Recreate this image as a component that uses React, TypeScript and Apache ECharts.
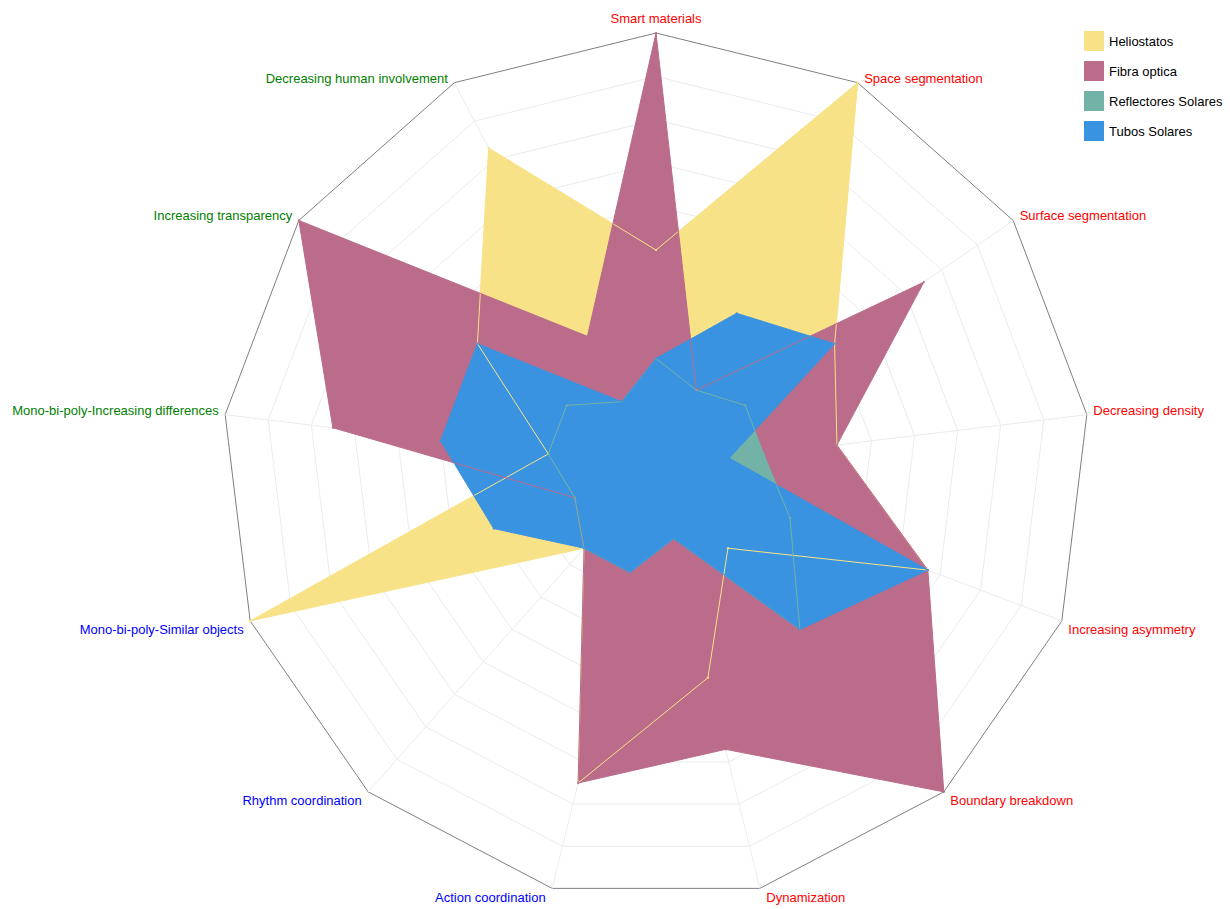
import React, { useEffect, useRef } from "react";
import * as echarts from "echarts";

// Axes listed clockwise from the top
const categories = [
  "Smart materials",
  "Space segmentation",
  "Surface segmentation",
  "Decreasing density",
  "Increasing asymmetry",
  "Boundary breakdown",
  "Dynamization",
  "Action coordination",
  "Rhythm coordination",
  "Mono-bi-poly-Similar objects",
  "Mono-bi-poly-Increasing differences",
  "Increasing transparency",
  "Decreasing human involvement",
];
const categoryColors = [
  "#ff0000", "#ff0000", "#ff0000", "#ff0000", "#ff0000", "#ff0000", "#ff0000",
  "#0000ff", "#0000ff", "#0000ff",
  "#008000", "#008000", "#008000",
];

const seriesNames = ["Heliostatos", "Fibra optica", "Reflectores Solares", "Tubos Solares"];
const heliostatos = [5, 10, 5, 4.2, 6.7, 2.5, 5, 7.5, 2.5, 10, 2.5, 5, 8.3];
const fibraOptica = [10, 2, 7.5, 4.2, 6.7, 10, 6.7, 7.5, 2.5, 2, 7.5, 10, 3.4];
const reflectoresSolares = [2.5, 2, 2.5, 2.5, 3.3, 5, 1.7, 2.5, 2.5, 2, 2.5, 2.5, 1.7];
const tubosSolares = [2.5, 4, 5, 1.7, 6.7, 5, 1.7, 2.5, 2.5, 4, 5, 5, 1.7];
const seriesColors = ["#f8e287", "#ba6c8a", "#73b2a6", "#3a93e0"];

const maxValue = 10;
const rings = 10;

export default function App() {
  const ref = useRef<HTMLDivElement>(null);
  useEffect(() => {
    if (!ref.current) return;
    const chart = echarts.init(ref.current, undefined, { renderer: "svg" });
    const n = categories.length;
    // ECharts radar runs counter-clockwise; reorder to get a clockwise layout
    const order = [0, ...Array.from({ length: n - 1 }, (_, k) => n - 1 - k)];
    const indicator = order.map((i) => ({
      name: categories[i],
      max: maxValue,
      min: 0,
      color: categoryColors[i],
    }));
    const all = [heliostatos, fibraOptica, reflectoresSolares, tubosSolares];
    const reorder = (arr: number[]) => order.map((i) => arr[i]);
    const font = "'Liberation Sans', Arial, sans-serif";
    const fs = 13;
    const lh = 14;
    const gx = 6.5;
    const placeKey = (i: number) => {
      if (i === 0) return "top";
      if (i <= 3) return "ur";
      if (i <= 6) return "lr";
      if (i <= 9) return "ll";
      return "ul";
    };
    const base = { fontSize: fs, fontFamily: font, lineHeight: lh };
    const areaSeries = all.map((arr, k) => ({
      type: "radar",
      name: seriesNames[k],
      symbol: "none",
      itemStyle: { color: seriesColors[k] },
      lineStyle: { width: 0, color: seriesColors[k] },
      areaStyle: { color: seriesColors[k], opacity: 1 },
      data: [{ name: seriesNames[k], value: reorder(arr) }],
      z: 2,
    }));
    const lineSeries = all.map((arr, k) => ({
      type: "radar",
      name: seriesNames[k],
      symbol: "circle",
      symbolSize: 2,
      itemStyle: { color: seriesColors[k] },
      lineStyle: { width: 1, color: seriesColors[k] },
      data: [{ name: seriesNames[k], value: reorder(arr) }],
      z: 3,
    }));
    const splitColors = Array.from({ length: rings + 1 }, (_, i) => (i === rings ? "#7f7f7f" : "#ebebeb"));
    chart.setOption({
      animation: false,
      backgroundColor: "#ffffff",
      legend: {
        orient: "vertical",
        left: 1084,
        top: 31,
        padding: 0,
        itemWidth: 20,
        itemHeight: 20,
        itemGap: 10,
        icon: "rect",
        data: seriesNames,
        textStyle: { fontSize: fs, color: "#000", fontFamily: font },
      },
      radar: {
        center: [656, 467],
        radius: 434,
        startAngle: 90,
        splitNumber: rings,
        shape: "polygon",
        nameGap: 0,
        indicator,
        axisName: {
          fontSize: fs,
          fontFamily: font,
          formatter: (name: string) => `{${placeKey(categories.indexOf(name))}|${name}}`,
          rich: {
            top: { ...base, padding: [0, 0, 15, 0] },
            ur: { ...base, padding: [0, 0, 9, gx] },
            lr: { ...base, padding: [18, 0, 0, gx] },
            ll: { ...base, padding: [18, gx, 0, 0] },
            ul: { ...base, padding: [0, gx, 9, 0] },
          },
        },
        splitArea: { show: false },
        splitLine: { lineStyle: { color: splitColors, width: 1 } },
        axisLine: { lineStyle: { color: "#ebebeb", width: 1 } },
        axisTick: { show: false },
        axisLabel: { show: false },
      },
      series: [...areaSeries, ...lineSeries],
    });
    return () => chart.dispose();
  }, []);
  return (
    <div
      ref={ref}
      style={{ position: "fixed", left: 0, top: 0, width: 1230, height: 909, background: "#fff" }}
    />
  );
}
